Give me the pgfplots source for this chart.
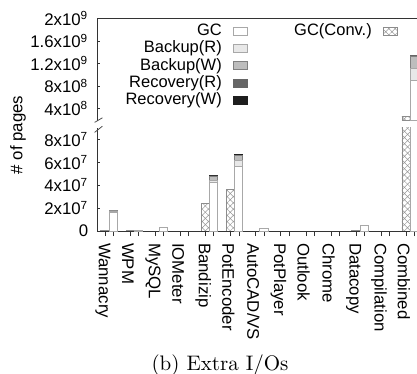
\documentclass[border=0pt]{standalone}
\usepackage{pgfplots}
\pgfplotsset{compat=1.18}
\usepackage{pgfplotstable}
\usepackage{fontspec}
\usetikzlibrary{patterns.meta}
\newfontfamily\arial{Liberation Sans}
\definecolor{brc}{HTML}{E8E8E8}
\definecolor{bwc}{HTML}{BDBDBD}
\definecolor{rrc}{HTML}{666666}
\definecolor{rwc}{HTML}{1E1E1E}
\definecolor{edge}{HTML}{A8A8A8}

\pgfplotstableread{
x conv
0 7e5
1 2e5
2 0
3 0
4 2.42e7
5 3.64e7
6 0
7 0
8 0
9 0
10 3e5
11 0
12 2.63e8
}\convtab

\pgfplotstableread{
x gc br bw rr rw
0 1.65e7 1.0e6 3e5 0 5e5
1 5e5 0 0 0 3e5
2 2.8e6 0 0 0 5e5
3 0 0 0 0 0
4 4.28e7 1.5e6 3.7e6 0 6e5
5 5.67e7 4.6e6 5.0e6 0 8e5
6 2.2e6 0 0 0 4e5
7 0 0 0 0 0
8 0 0 0 0 0
9 0 0 0 0 0
10 4.5e6 0 0 0 5e5
11 0 0 0 0 0
12 8.9e8 2.2e8 2.2e8 3e6 1.2e7
}\stacktab

\pgfplotsset{
  base/.style={scale only axis, width=159.85pt, xmin=-0.47, xmax=12.27,
    font=\arial\fontsize{8.4}{9.6}\selectfont, scaled y ticks=false,
    axis line style={black!80}, tick style={black!80}},
  lowpos/.style={at={(48.65pt,-115.5pt)}, anchor=south west, height=51.57pt, ymin=0, ymax=9e7},
  uppos/.style={at={(48.65pt,-60.35pt)}, anchor=south west, height=51.2pt, ymin=1.8e8, ymax=2e9},
  convbar/.style={pattern={Hatch[angle=45,distance=2.2pt,line width=0.25pt]}, pattern color=gray!80, draw=gray!90},
  leg/.style={legend plot pos=right, legend cell align=right,
    legend image code/.code={\draw[##1] (0pt,-2pt) rectangle (7pt,2pt);},
    legend style={draw=none, fill=none, inner sep=0pt,
      font=\arial\fontsize{8.25}{9.5}\selectfont,
      nodes={inner sep=0.5pt, text height=6pt, text depth=1.6pt},
      column sep=5pt, anchor=north east}},
}

\begin{document}
\begin{tikzpicture}
\path[use as bounding box] (0,0) rectangle (208.5pt,-187pt);

% lower panel, conventional GC
\begin{axis}[base, lowpos, ybar, bar width=4.15pt, bar shift=-2.07pt,
  axis x line=none, axis y line*=left, xtick=\empty,
  ytick={0,2e7,4e7,6e7,8e7},
  yticklabels={0,2x10\textsuperscript{7},4x10\textsuperscript{7},6x10\textsuperscript{7},8x10\textsuperscript{7}},
  tick align=inside, major tick length=1.5pt, yticklabel style={xshift=-1pt}]
\addplot[convbar] table[x=x,y=conv]{\convtab};
\end{axis}

% lower panel, stacked
\begin{axis}[base, lowpos, ybar stacked, bar width=4.15pt, bar shift=2.07pt,
  axis y line=none, axis x line*=bottom, ytick=\empty,
  xtick={-0.165,0.165,0.835,1.165,1.835,2.165,2.835,3.165,3.835,4.165,4.835,5.165,5.835,6.165,6.835,7.165,7.835,8.165,8.835,9.165,9.835,10.165,10.835,11.165,11.835,12.165},
  xticklabels={},
  tick align=outside, major tick length=2.5pt,
  extra x ticks={-0.25,0.75,1.75,2.75,3.75,4.75,5.75,6.75,7.75,8.75,9.75,10.75,11.75},
  extra x tick labels={Wannacry,WPM,MySQL,IOMeter,Bandizip,PotEncoder,AutoCAD/VS,PotPlayer,Outlook,Chrome,Datacopy,Compilation,Combined},
  extra x tick style={major tick length=0pt},
  xticklabel style={yshift=-2.5pt, rotate=-90, anchor=west}]
\addplot[fill=white,draw=edge] table[x=x,y=gc]{\stacktab};
\addplot[fill=brc,draw=edge] table[x=x,y=br]{\stacktab};
\addplot[fill=bwc,draw=gray] table[x=x,y=bw]{\stacktab};
\addplot[fill=rrc,draw=rrc] table[x=x,y=rr]{\stacktab};
\addplot[fill=rwc,draw=rwc] table[x=x,y=rw]{\stacktab};
\end{axis}

% upper panel, conventional GC
\begin{axis}[base, uppos, ybar, bar width=4.15pt, bar shift=-2.07pt,
  axis x line*=top, axis y line*=left, xtick=\empty,
  ytick={4e8,8e8,1.2e9,1.6e9,2e9},
  yticklabels={4x10\textsuperscript{8},8x10\textsuperscript{8},1.2x10\textsuperscript{9},1.6x10\textsuperscript{9},2x10\textsuperscript{9}},
  tick align=inside, major tick length=1.5pt, yticklabel style={xshift=-1pt},
  leg, legend style={at={(0.9406,0.96)}}]
\addplot[convbar, skip coords between index={0}{12}] table[x=x,y=conv]{\convtab};
\addlegendentry{GC(Conv.)}
\end{axis}

% upper panel, stacked
\begin{axis}[base, uppos, ybar stacked, bar width=4.15pt, bar shift=2.07pt,
  hide axis, leg, legend style={at={(0.4714,0.96)}}]
\addplot[fill=white,draw=edge, skip coords between index={0}{12}] table[x=x,y=gc]{\stacktab};
\addlegendentry{GC}
\addplot[fill=brc,draw=edge, skip coords between index={0}{12}] table[x=x,y=br]{\stacktab};
\addlegendentry{Backup(R)}
\addplot[fill=bwc,draw=gray, skip coords between index={0}{12}] table[x=x,y=bw]{\stacktab};
\addlegendentry{Backup(W)}
\addplot[fill=rrc,draw=rrc, skip coords between index={0}{12}] table[x=x,y=rr]{\stacktab};
\addlegendentry{Recovery(R)}
\addplot[fill=rwc,draw=rwc, skip coords between index={0}{12}] table[x=x,y=rw]{\stacktab};
\addlegendentry{Recovery(W)}
\end{axis}

% axis break marks
\draw[black!70] (47.3pt,-61.2pt) -- (51.2pt,-58.9pt);
\draw[black!70] (47.3pt,-66.2pt) -- (51.2pt,-63.1pt);

\node[rotate=90, font=\arial\fontsize{8.4}{9.6}\selectfont] at (9pt,-67.5pt) {\# of pages};
\node[font=\fontsize{10.5}{12}\selectfont] at (110pt,-182.5pt) {(b)~Extra I/Os};
\end{tikzpicture}
\end{document}
